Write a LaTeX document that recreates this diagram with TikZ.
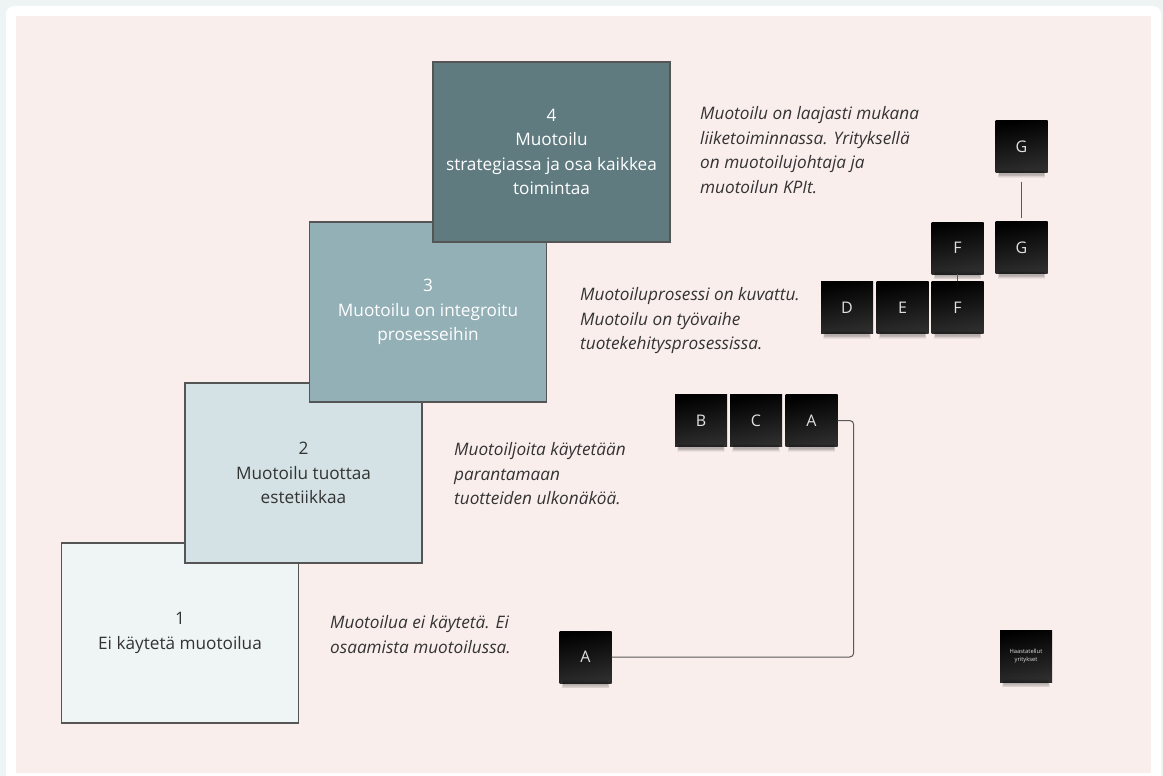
\documentclass[tikz,border=0pt]{standalone}
\usepackage{fontspec}
\setmainfont{Open Sans}
\definecolor{pageback}{HTML}{EEF4F4}
\definecolor{canvas}{HTML}{F9EEEC}
\definecolor{lvlone}{HTML}{EFF4F4}
\definecolor{lvltwo}{HTML}{D4E2E5}
\definecolor{lvlthree}{HTML}{93B0B7}
\definecolor{lvlfour}{HTML}{5F7B80}
\definecolor{edge}{HTML}{555555}
\definecolor{ink}{HTML}{333333}
\tikzset{
  level/.style={draw=edge, line width=1.3pt, minimum width=237, minimum height=180,
    align=center, font=\fontsize{17.2}{24.5}\selectfont, inner sep=0pt},
  note/.style={align=left, anchor=west, text=ink,
    font=\fontsize{17.2}{24.5}\selectfont\itshape, inner sep=0pt},
  sticky/.style={minimum width=52, minimum height=52, inner sep=0pt,
    top color=black, bottom color=black!82!white, shading angle=10,
    text=white!88!black, font=\fontsize{16}{18}\selectfont},
  link/.style={draw=black!65, line width=1pt},
}
% soft shadow under a sticky note
\newcommand{\noteshadow}[1]{%
  \foreach \k in {1,...,5}{
    \fill[black, opacity=0.06]
      ([xshift=2+\k*0.4, yshift=-6+\k*0.8]#1.south west) rectangle
      ([xshift=-2-\k*0.4, yshift=\k*0.8-1]#1.south east);
  }}
\begin{document}
\begin{tikzpicture}[x=1pt, y=-1pt]
  \useasboundingbox (0,0) rectangle (1163,776);
  \fill[pageback] (0,0) rectangle (1163,776);
  \fill[white, rounded corners=8] (6,6) rectangle (1161,800);
  \fill[canvas] (16,16) rectangle (1151,773);

  % the four maturity levels, stacked like stairs
  \node[level, fill=lvlone, text=ink] (L1) at (180,633) {1\\Ei käytetä muotoilua};
  \node[level, fill=lvltwo, text=ink] (L2) at (303.5,473) {2\\Muotoilu tuottaa\\estetiikkaa};
  \node[level, fill=lvlthree, text=white] (L3) at (428,312) {3\\Muotoilu on integroitu\\prosesseihin};
  \node[level, fill=lvlfour, text=white] (L4) at (551.5,152) {4\\Muotoilu\\strategiassa ja osa kaikkea\\toimintaa};

  % descriptions
  \node[note] (T1) at (330,634.5) {Muotoilua ei käytetä. Ei\\osaamista muotoilussa.};
  \node[note] (T2) at (454,474) {Muotoiljoita käytetään\\parantamaan\\tuotteiden ulkonäköä.};
  \node[note] (T3) at (580,321) {Muotoiluprosessi on kuvattu.\\Muotoilu on työvaihe\\tuotekehitysprosessissa.};
  \node[note] (T4) at (700,150) {Muotoilu on laajasti mukana\\liiketoiminnassa. Yrityksellä\\on muotoilujohtaja ja\\muotoilun KPIt.};

  % sticky notes
  \node[sticky] (A2) at (585.5,657) {A};
  \node[sticky] (B) at (701,420.5) {B};
  \node[sticky] (C) at (756,420.5) {C};
  \node[sticky] (A1) at (811.5,420.5) {A};
  \node[sticky] (D) at (847,307.5) {D};
  \node[sticky] (E) at (902.5,307.5) {E};
  \node[sticky] (F2) at (957.5,307.5) {F};
  \node[sticky] (F1) at (957.5,248) {F};
  \node[sticky] (G2) at (1021.5,247.5) {G};
  \node[sticky] (G1) at (1021.5,146.5) {G};
  \node[sticky, font=\fontsize{5.8}{7.5}\selectfont, align=center] (H) at (1026,656) {Haastatellut\\yritykset};
  \foreach \n in {A2,B,C,A1,D,E,F2,F1,G2,G1,H}{\noteshadow{\n}}

  % connectors
  \draw[link, rounded corners=4] (A1.east) -- ++(16,0) |- (A2.east);
  \draw[link] (F1.south) -- (F2.north);
  \draw[link, shorten <=9pt, shorten >=3pt] (G1.south) -- (G2.north);
\end{tikzpicture}
\end{document}
